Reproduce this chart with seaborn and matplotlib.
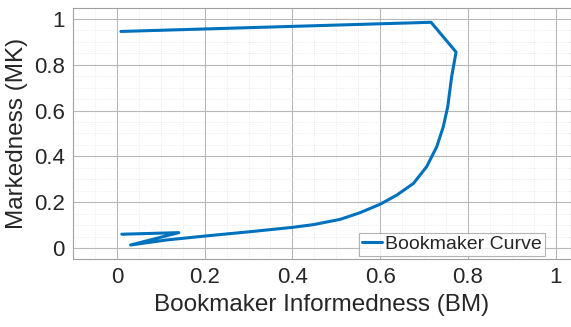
import numpy as np
import pandas as pd
import seaborn as sns
import matplotlib.pyplot as plt
from matplotlib.ticker import MultipleLocator

# data (in drawing order)
bm = [0.011, 0.141, 0.031, 0.113, 0.200, 0.303, 0.400, 0.448, 0.509, 0.554,
      0.600, 0.638, 0.676, 0.706, 0.729, 0.744, 0.754, 0.763, 0.773, 0.716, 0.009]
mk = [0.060, 0.067, 0.013, 0.035, 0.052, 0.071, 0.090, 0.102, 0.125, 0.154,
      0.191, 0.231, 0.282, 0.355, 0.442, 0.530, 0.617, 0.748, 0.855, 0.985, 0.945]

df = pd.DataFrame({'BM': bm, 'MK': mk})

sns.set_theme(style="whitegrid")
plt.rcParams['font.family'] = ['Liberation Sans', 'DejaVu Sans']

fig = plt.figure(figsize=(5.71, 3.27), dpi=100)
ax = fig.add_axes([0.128, 0.208, 0.872, 0.768])

sns.lineplot(data=df, x='BM', y='MK', sort=False, estimator=None, color='#0072BD',
             linewidth=2.2, label='Bookmaker Curve', ax=ax)

ax.set_xlim(-0.1, 1.035)
ax.set_ylim(-0.048, 1.048)
ax.xaxis.set_minor_locator(MultipleLocator(0.05))
ax.yaxis.set_minor_locator(MultipleLocator(0.05))
ax.set_xticks([0, 0.2, 0.4, 0.6, 0.8, 1])
ax.set_xticklabels(['0', '0.2', '0.4', '0.6', '0.8', '1'])
ax.set_yticks([0, 0.2, 0.4, 0.6, 0.8, 1])
ax.set_yticklabels(['0', '0.2', '0.4', '0.6', '0.8', '1'])

ax.grid(which='major', color='#b8b8b8', linewidth=0.8)
ax.grid(which='minor', color='#e4e4e4', linewidth=0.6, linestyle=':')
ax.tick_params(which='both', length=0, labelsize=16, colors='#262626', pad=6)
for s in ax.spines.values():
    s.set_color('#a0a0a0')
    s.set_linewidth(0.8)

ax.set_xlabel('Bookmaker Informedness (BM)', fontsize=17.5, color='#262626')
ax.set_ylabel('Markedness (MK)', fontsize=17.5, color='#262626')

leg = ax.legend(loc='lower right', bbox_to_anchor=(0.948, 0.012), fontsize=14,
                frameon=True, fancybox=False, handlelength=1.0, handletextpad=0.2,
                borderpad=0.15, borderaxespad=0)
leg.get_frame().set_edgecolor('#a0a0a0')
leg.get_frame().set_linewidth(0.8)

plt.savefig('out.png', dpi=100)
